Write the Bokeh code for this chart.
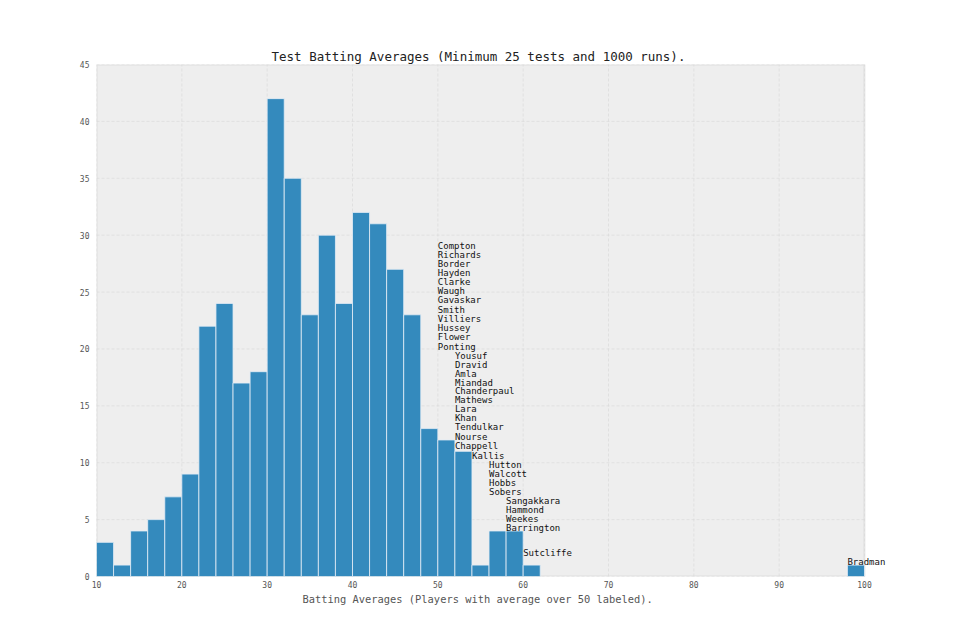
from bokeh.plotting import figure, ColumnDataSource
from bokeh.models import FixedTicker, Range1d, BoxAnnotation, Title
from bokeh.core.properties import value
from bokeh.embed import file_html
from bokeh.resources import INLINE

# histogram: bins of width 2 from 10 to 100
bin_width = 2
counts = [3, 1, 4, 5, 7, 9, 22, 24, 17, 18,
          42, 35, 23, 30, 24, 32, 31, 27, 23, 13,
          12, 11, 1, 4, 4, 1, 0, 0, 0, 0,
          0, 0, 0, 0, 0, 0, 0, 0, 0, 0,
          0, 0, 0, 0, 1]
bin_lefts = list(range(10, 100, bin_width))

# players with average over 50, placed at their bin and stacked upwards
names = ["Compton", "Richards", "Border", "Hayden", "Clarke", "Waugh",
         "Gavaskar", "Smith", "Villiers", "Hussey", "Flower", "Ponting",
         "Yousuf", "Dravid", "Amla", "Miandad", "Chanderpaul", "Mathews",
         "Lara", "Khan", "Tendulkar", "Nourse", "Chappell",
         "Kallis",
         "Hutton", "Walcott", "Hobbs", "Sobers",
         "Sangakkara", "Hammond", "Weekes", "Barrington",
         "Sutcliffe",
         "Bradman"]
name_bins = [50] * 12 + [52] * 11 + [54] + [56] * 4 + [58] * 4 + [60] + [98]
name_y = [29.03, 28.24, 27.45, 26.66, 25.84, 25.05, 24.26, 23.40, 22.61,
          21.80, 21.01, 20.21,
          19.42, 18.63, 17.84, 17.05, 16.26, 15.47, 14.68, 13.89, 13.10,
          12.22, 11.43,
          10.63,
          9.84, 9.05, 8.26, 7.47,
          6.62, 5.83, 5.01, 4.22,
          2.05,
          1.26]

x_ticks = [10, 20, 30, 40, 50, 60, 70, 80, 90, 100]
y_ticks = [0, 5, 10, 15, 20, 25, 30, 35, 40, 45]

X_MIN, X_MAX, Y_MIN, Y_MAX = 10, 100, 0, 45
MONO = "DejaVu Sans Mono"

bars = [(l, c) for l, c in zip(bin_lefts, counts) if c > 0]
source = ColumnDataSource(data=dict(
    left=[b[0] for b in bars],
    right=[b[0] + bin_width for b in bars],
    top=[b[1] for b in bars],
))
labels = ColumnDataSource(data=dict(x=name_bins, y=name_y, name=names))

# the frame runs a little past 100 so the "Bradman" label is not clipped;
# the visible axes box (10..100) is drawn with a BoxAnnotation
p = figure(frame_width=800, frame_height=512,
           output_backend="svg", toolbar_location=None,
           x_range=Range1d(X_MIN, 103.75), y_range=Range1d(Y_MIN, Y_MAX),
           min_border_left=96, min_border_right=48,
           min_border_top=64, min_border_bottom=40,
           title="Test Batting Averages (Minimum 25 tests and 1000 runs).")

p.background_fill_color = "white"
p.border_fill_color = "white"
p.outline_line_color = None

p.add_layout(BoxAnnotation(left=X_MIN, right=X_MAX, bottom=Y_MIN, top=Y_MAX,
                           fill_color="#eeeeee", fill_alpha=1,
                           line_color="#bcbcbc", line_width=2,
                           level="image"))

# titles are offset from the frame's left edge so they centre on the 10..100 box
p.title.align = "left"
p.title.offset = 175
p.title.text_font = MONO
p.title.text_font_size = "12.5px"
p.title.text_font_style = "normal"
p.title.text_color = "#222222"
p.title.standoff = 2

p.add_layout(Title(text="Batting Averages (Players with average over 50 labeled).",
                   align="left", offset=206, standoff=0,
                   text_font=MONO, text_font_size="10.4px",
                   text_font_style="normal", text_color="#555555"), "below")

# grid lines limited to the axes box
p.grid.grid_line_color = None
p.segment(x0=X_MIN, x1=X_MAX, y0=y_ticks, y1=y_ticks,
          line_color="#d6d6d6", line_width=0.6, line_dash="3 2")
p.segment(x0=x_ticks, x1=x_ticks, y0=Y_MIN, y1=Y_MAX,
          line_color="#d6d6d6", line_width=0.6, line_dash="3 2")

p.quad(left="left", right="right", top="top", bottom=0, source=source,
       fill_color="#348ABD", line_color="#e4eef6", line_width=0.8)

p.text(x="x", y="y", text="name", source=labels,
       text_font=value(MONO), text_font_size="9px",
       text_baseline="middle", text_align="left", text_color="#111111")

p.xaxis.ticker = FixedTicker(ticks=x_ticks)
p.yaxis.ticker = FixedTicker(ticks=y_ticks)
p.xaxis.bounds = (X_MIN, X_MAX)

for ax in (p.xaxis, p.yaxis):
    ax.axis_line_color = None
    ax.major_tick_line_color = None
    ax.minor_tick_line_color = None
    ax.major_tick_out = 0
    ax.major_tick_in = 0
    ax.minor_tick_out = 0
    ax.major_label_text_font = MONO
    ax.major_label_text_font_size = "8px"
    ax.major_label_text_color = "#555555"
p.xaxis.major_label_standoff = 4
p.yaxis.major_label_standoff = 7

open("out.html", "w").write(file_html(p, INLINE))
